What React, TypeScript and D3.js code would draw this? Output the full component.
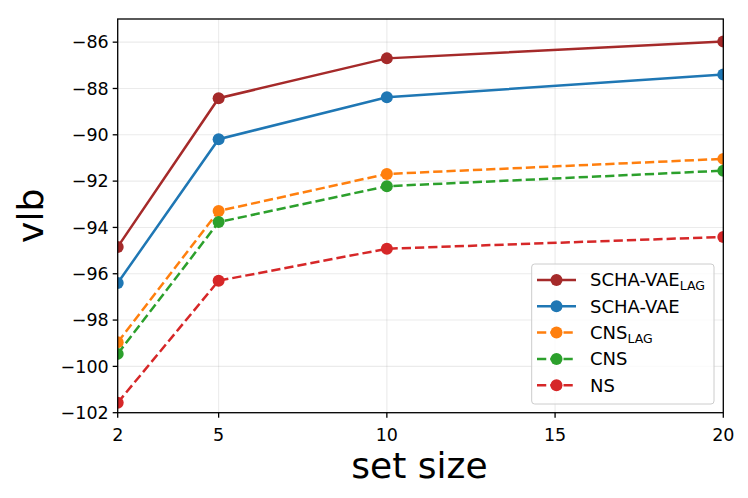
import React from "react";
import * as d3 from "d3";

const setSizes = [2, 5, 10, 20];
const schaVaeLag = [-94.84, -88.42, -86.70, -85.97];
const schaVae = [-96.40, -90.19, -88.38, -87.40];
const cnsLag = [-98.96, -93.29, -91.69, -91.04];
const cns = [-99.46, -93.77, -92.22, -91.55];
const ns = [-101.57, -96.30, -94.92, -94.41];

const xTicks = [2, 5, 10, 15, 20];
const yTicks = [-102, -100, -98, -96, -94, -92, -90, -88, -86];

const seriesList = [
  { name: "SCHA-VAE", sub: "LAG", values: schaVaeLag, color: "#a52a2a", dashed: false },
  { name: "SCHA-VAE", sub: "", values: schaVae, color: "#1f77b4", dashed: false },
  { name: "CNS", sub: "LAG", values: cnsLag, color: "#ff7f0e", dashed: true },
  { name: "CNS", sub: "", values: cns, color: "#2ca02c", dashed: true },
  { name: "NS", sub: "", values: ns, color: "#d62728", dashed: true },
];

const W = 748;
const H = 498;
const left = 117.7;
const right = 723.3;
const top = 19;
const bottom = 412.7;
const font = "DejaVu Sans, sans-serif";

export default function App() {
  const x = d3.scaleLinear().domain([2, 20]).range([left, right]);
  const y = d3.scaleLinear().domain([-102, -85]).range([bottom, top]);
  const line = d3
    .line<number>()
    .x((_, i) => x(setSizes[i]))
    .y((d) => y(d));

  const legX = 531.7;
  const legY = 264;
  const legW = 182.3;
  const legH = 140;
  const rowH = 26.3;

  return (
    <svg
      width={W}
      height={H}
      style={{ position: "absolute", left: 0, top: 0, background: "#fff" }}
      fontFamily={font}
    >
      <defs>
        <clipPath id="plotclip">
          <rect x={left} y={top} width={right - left} height={bottom - top} />
        </clipPath>
      </defs>
      <rect x={0} y={0} width={W} height={H} fill="#fff" />
      {/* grid */}
      <g stroke="#b0b0b0" strokeOpacity={0.25} strokeWidth={1.1}>
        {xTicks.map((t) => (
          <line key={"gx" + t} x1={x(t)} x2={x(t)} y1={top} y2={bottom} />
        ))}
        {yTicks.map((t) => (
          <line key={"gy" + t} x1={left} x2={right} y1={y(t)} y2={y(t)} />
        ))}
      </g>
      {/* series */}
      <g clipPath="url(#plotclip)">
        {seriesList.map((s, si) => (
          <g key={si}>
            <path
              d={line(s.values) || ""}
              fill="none"
              stroke={s.color}
              strokeWidth={2.5}
              strokeDasharray={s.dashed ? "9.25 4" : undefined}
            />
            {s.values.map((v, i) => (
              <circle key={i} cx={x(setSizes[i])} cy={y(v)} r={6} fill={s.color} />
            ))}
          </g>
        ))}
      </g>
      {/* frame */}
      <rect
        x={left}
        y={top}
        width={right - left}
        height={bottom - top}
        fill="none"
        stroke="#000"
        strokeWidth={1.3}
      />
      {/* x ticks */}
      {xTicks.map((t) => (
        <g key={"xt" + t}>
          <line x1={x(t)} x2={x(t)} y1={bottom} y2={bottom + 5} stroke="#000" strokeWidth={1.3} />
          <text x={x(t)} y={bottom + 28} fontSize={17.5} textAnchor="middle" fill="#000">
            {t}
          </text>
        </g>
      ))}
      {/* y ticks */}
      {yTicks.map((t) => (
        <g key={"yt" + t}>
          <line x1={left - 5} x2={left} y1={y(t)} y2={y(t)} stroke="#000" strokeWidth={1.3} />
          <text
            x={left - 9}
            y={y(t)}
            dy="0.36em"
            fontSize={17.5}
            textAnchor="end"
            fill="#000"
          >
            {t < 0 ? "\u2212" + Math.abs(t) : t}
          </text>
        </g>
      ))}
      {/* axis labels */}
      <text x={(left + right) / 2 - 1} y={478} fontSize={36} textAnchor="middle" fill="#000">
        set size
      </text>
      <text
        transform={`translate(43,${(top + bottom) / 2}) rotate(-90)`}
        fontSize={36}
        textAnchor="middle"
        fill="#000"
      >
        vlb
      </text>
      {/* legend */}
      <rect
        x={legX}
        y={legY}
        width={legW}
        height={legH}
        rx={3}
        fill="#fff"
        fillOpacity={0.8}
        stroke="#cccccc"
        strokeWidth={1}
      />
      {seriesList.map((s, i) => {
        const cy = 280 + i * rowH;
        return (
          <g key={"lg" + i}>
            <line
              x1={537}
              x2={576}
              y1={cy}
              y2={cy}
              stroke={s.color}
              strokeWidth={2.5}
              strokeDasharray={s.dashed ? "9.25 4" : undefined}
            />
            <circle cx={556.5} cy={cy} r={6} fill={s.color} />
            <text x={590} y={cy} dy="0.36em" fontSize={18} fill="#000">
              {s.name}
              {s.sub ? (
                <tspan fontSize={12.5} dy="4">
                  {s.sub}
                </tspan>
              ) : null}
            </text>
          </g>
        );
      })}
    </svg>
  );
}
